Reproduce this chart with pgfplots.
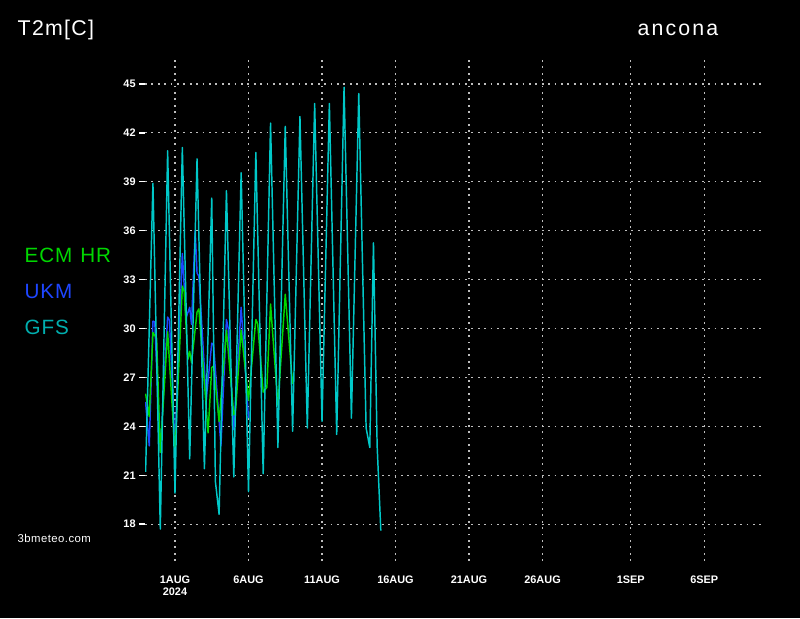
\documentclass[border=0pt]{standalone}
\usepackage{fontspec}
\setmainfont{Liberation Sans}
\usepackage{pgfplots}
\pgfplotsset{compat=1.18}
\definecolor{ecmgreen}{RGB}{0,215,0}
\definecolor{ukmblue}{RGB}{30,70,255}
\definecolor{gfscyan}{RGB}{0,200,200}
\definecolor{gfstext}{RGB}{0,175,175}
\definecolor{gridgrey}{RGB}{190,190,190}
\begin{document}
\begin{tikzpicture}[x=0.75pt,y=0.75pt]
\useasboundingbox (0,0) rectangle (800,618);
\fill[black] (0,0) rectangle (800,618);
\begin{axis}[
    at={(108.75pt,42.75pt)}, anchor=south west,
    scale only axis, width=462pt, height=377.25pt,
    xmin=-2.04, xmax=39.86, ymin=15.74, ymax=46.59,
    axis line style={draw=none},
    xtick={0,5,10,15,20,25,31,36},
    xticklabels={{1AUG\\2024},6AUG,11AUG,16AUG,21AUG,26AUG,1SEP,6SEP},
    ytick={18,21,...,45},
    grid=major,
    major grid style={gridgrey, line width=0.9pt, dash pattern=on 1.3pt off 3.5pt},
    tick align=outside, major tick length=4.5pt,
    x tick style={draw=none},
    y tick style={white, line width=1pt},
    xtick pos=bottom, ytick pos=left,
    tick label style={white, font=\bfseries\fontsize{8.2}{9}\selectfont},
    xticklabel style={align=center, yshift=-3pt},
    yticklabel style={xshift=1pt},
    /pgf/number format/assume math mode=true,
    no markers,
    every axis plot/.append style={line width=1.1pt, line join=round},
]
% UKM
\addplot[ukmblue] coordinates {
(-2.0,25.5) (-1.75,22.8) (-1.5,30.45) (-1.375,30.4) (-1.0,22.4) (-0.5,30.7)
(-0.375,30.5) (0.0,22.8) (0.5,34.6) (0.75,30.65) (1.0,31.3) (1.125,30.25)
(1.375,36.0) (1.5,33.4) (1.625,33.2) (2.125,25.65) (2.5,29.1) (2.625,29.0)
(3.125,22.8) (3.5,30.55) (3.625,30.0) (4.0,23.8) (4.5,31.3) (5.0,24.5)
};
% ECM HR
\addplot[ecmgreen] coordinates {
(-2.0,26.0) (-1.75,24.6) (-1.5,29.75) (-1.25,29.4) (-1.0,22.4) (-0.5,29.8)
(0.0,22.4) (0.5,32.6) (0.625,32.3) (0.875,28.1) (1.0,28.6) (1.125,27.9)
(1.5,31.0) (1.625,31.2) (2.25,23.6) (2.5,27.6) (2.625,27.7) (3.0,24.3)
(3.5,29.9) (4.0,24.7) (4.125,25.0) (4.5,29.9) (5.0,25.6) (5.5,30.55)
(5.625,30.3) (6.0,26.1) (6.25,26.4) (6.5,31.5) (7.0,25.3) (7.5,32.1) (8.0,26.6)
};
% GFS
\addplot[gfscyan] coordinates {
(-2.0,21.2) (-1.5,38.9) (-1.0,17.7) (-0.5,40.9) (0.0,19.9) (0.5,41.1)
(1.0,22.0) (1.5,40.4) (2.0,21.4) (2.5,38.0) (2.75,20.6) (3.0,18.6)
(3.5,38.45) (4.0,20.9) (4.5,39.55) (5.0,20.0) (5.5,40.8) (6.0,21.1)
(6.5,42.6) (7.0,22.7) (7.5,42.4) (8.0,23.7) (8.5,43.0) (9.0,23.9)
(9.5,43.8) (10.0,24.3) (10.5,43.8) (11.0,23.5) (11.5,44.8) (12.0,24.5)
(12.5,44.4) (13.0,23.9) (13.25,22.7) (13.5,35.25) (13.75,22.8) (14.0,17.6)
};
\end{axis}
\node[anchor=west, white, font=\fontsize{16}{18}\selectfont\addfontfeature{LetterSpace=6}] at (13,588) {T2m[C]};
\node[anchor=center, white, font=\fontsize{16}{18}\selectfont\addfontfeature{LetterSpace=10}] at (678,588) {ancona};
\node[anchor=west, ecmgreen, font=\fontsize{15.5}{18}\selectfont\addfontfeature{LetterSpace=4}] at (20,363) {ECM\hspace{6pt}HR};
\node[anchor=west, ukmblue, font=\fontsize{15.5}{18}\selectfont\addfontfeature{LetterSpace=4}] at (20,327) {UKM};
\node[anchor=west, gfstext, font=\fontsize{15.5}{18}\selectfont\addfontfeature{LetterSpace=4}] at (20,291) {GFS};
\node[anchor=west, white, font=\fontsize{8.5}{10}\selectfont\addfontfeature{LetterSpace=4}] at (13,80) {3bmeteo.com};
\end{tikzpicture}
\end{document}
